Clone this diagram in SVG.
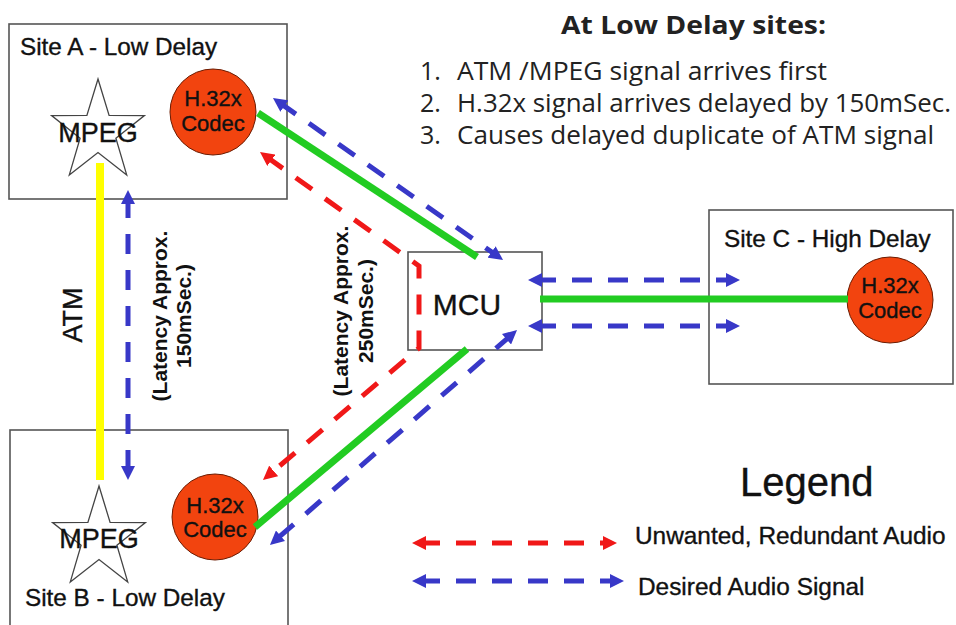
<svg xmlns="http://www.w3.org/2000/svg" width="956" height="625" viewBox="0 0 956 625">
<style>
.box{fill:#fff;stroke:#555;stroke-width:1.6}
.lbl{font-family:"Liberation Sans",Arial,sans-serif;fill:#111;stroke:#111;stroke-width:0.35}
.site{font-size:24.3px}
.codec{fill:#f2440f;stroke:#6b1a00;stroke-width:1}
.ctext{font-size:22px;text-anchor:middle}
.star{fill:none;stroke:#444;stroke-width:1.3}
.mpeg{font-size:27px;text-anchor:middle}
.green{stroke:#22cc22;stroke-width:7;fill:none}
.blue{stroke:#3838c8;stroke-width:5;fill:none;stroke-dasharray:20 16;marker-start:url(#ab);marker-end:url(#ab)}
.red{stroke:#f01818;stroke-width:5;fill:none;stroke-dasharray:20 16;marker-start:url(#ar);marker-end:url(#ar)}
.lat{font-size:21px;font-weight:bold;text-anchor:middle;stroke-width:0}
.note{font-family:"Open Sans","DejaVu Sans",sans-serif;fill:#222;font-size:25px}
</style>
<defs>
<marker id="ab" viewBox="0 0 14 14" refX="6" refY="7" markerWidth="14" markerHeight="14" markerUnits="userSpaceOnUse" orient="auto-start-reverse"><path d="M0,0 L14,7 L0,14 z" fill="#3838c8"/></marker>
<marker id="ar" viewBox="0 0 14 14" refX="6" refY="7" markerWidth="14" markerHeight="14" markerUnits="userSpaceOnUse" orient="auto-start-reverse"><path d="M0,0 L14,7 L0,14 z" fill="#f01818"/></marker>
<polygon id="starshape" points="0,-53 11.1,-16.6 46.4,-16.4 17.9,6.3 28.7,42.9 0,20.5 -28.7,42.9 -17.9,6.3 -46.4,-16.4 -11.1,-16.6"/>
</defs>
<rect width="956" height="625" fill="#fff"/>

<g id="siteA">
<rect class="box" x="9" y="24" width="278" height="175"/>
<text class="lbl site" x="20" y="55">Site A - Low Delay</text>
<use href="#starshape" class="star" x="98" y="132"/>
<text class="lbl mpeg" x="98" y="142">MPEG</text>
<circle class="codec" cx="213" cy="112" r="43"/>
<text class="lbl ctext" x="213" y="106">H.32x</text>
<text class="lbl ctext" x="213" y="131">Codec</text>
</g>

<g id="siteB">
<rect class="box" x="10" y="430" width="278" height="200"/>
<use href="#starshape" class="star" x="99" y="539"/>
<text class="lbl mpeg" x="99" y="548">MPEG</text>
<text class="lbl site" x="25" y="606">Site B - Low Delay</text>
<circle class="codec" cx="215" cy="517" r="43"/>
<text class="lbl ctext" x="215" y="513">H.32x</text>
<text class="lbl ctext" x="215" y="537">Codec</text>
</g>

<g id="siteC">
<rect class="box" x="709" y="210" width="244" height="174"/>
<text class="lbl site" x="724" y="247">Site C - High Delay</text>
<circle class="codec" cx="890" cy="300" r="43"/>
<text class="lbl ctext" x="890" y="293">H.32x</text>
<text class="lbl ctext" x="890" y="318">Codec</text>
</g>

<g id="mcu">
<rect class="box" x="408" y="252" width="134" height="98"/>
<text class="lbl" x="467" y="315" font-size="30" text-anchor="middle">MCU</text>
</g>

<g id="connectors">
<line x1="100" y1="163" x2="100" y2="480" stroke="#ffff00" stroke-width="8"/>
<path class="blue" d="M128,198 L128,472"/>
<path class="green" d="M258,113 L477,257"/>
<path class="green" d="M467,349 L255,527"/>
<path class="green" d="M540,299 L848,299"/>
<path class="blue" d="M279.5,102.6 L496.5,255.4"/>
<path class="blue" d="M511,335.3 L276,539.7"/>
<path class="red" d="M266.5,156.7 L419,266 L419,348 L269.1,474.8"/>
<path class="blue" d="M536,280 L732,280"/>
<path class="blue" d="M536,326 L732,326"/>
</g>

<g id="labels">
<text class="lbl" transform="translate(82,315) rotate(-90)" font-size="27" text-anchor="middle">ATM</text>
<text class="lbl lat" transform="translate(167,316) rotate(-90)"><tspan x="0" y="0">(Latency Approx.</tspan><tspan x="0" y="24">150mSec.)</tspan></text>
<text class="lbl lat" transform="translate(348,311) rotate(-90)"><tspan x="0" y="0">(Latency Approx.</tspan><tspan x="0" y="25">250mSec.)</tspan></text>
</g>

<g id="notes">
<text class="note" x="561" y="34" font-size="27" font-weight="bold" textLength="265" lengthAdjust="spacingAndGlyphs">At Low Delay sites:</text>
<text class="note" x="420" y="80">1.</text>
<text class="note" x="457" y="80" textLength="370" lengthAdjust="spacingAndGlyphs">ATM /MPEG signal arrives first</text>
<text class="note" x="420" y="112">2.</text>
<text class="note" x="457" y="112" textLength="494" lengthAdjust="spacingAndGlyphs">H.32x signal arrives delayed by 150mSec.</text>
<text class="note" x="420" y="144">3.</text>
<text class="note" x="457" y="144" textLength="477" lengthAdjust="spacingAndGlyphs">Causes delayed duplicate of ATM signal</text>
</g>

<g id="legend">
<text class="lbl" x="740" y="496" font-size="40">Legend</text>
<path class="red" d="M420,543 L609,543"/>
<text class="lbl" x="635" y="544" font-size="24.4">Unwanted, Redundant Audio</text>
<path class="blue" d="M420,581 L616,581"/>
<text class="lbl" x="638" y="595" font-size="24.4">Desired Audio Signal</text>
</g>
</svg>
